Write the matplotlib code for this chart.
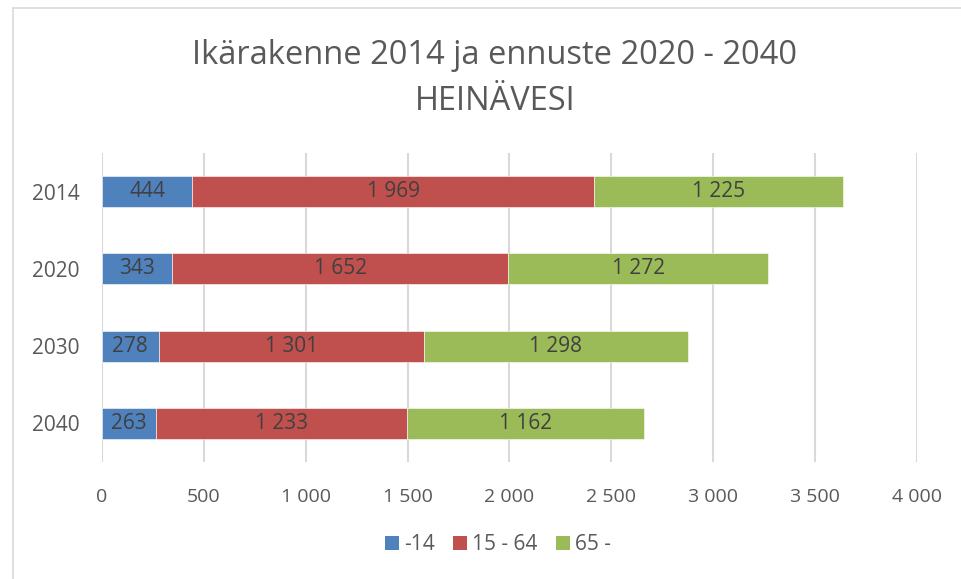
import matplotlib
matplotlib.use("Agg")
import matplotlib.pyplot as plt
from matplotlib.patches import Rectangle, Patch

plt.rcParams['font.family'] = ['Open Sans', 'DejaVu Sans']

years = ["2014", "2020", "2030", "2040"]
series = ["-14", "15 - 64", "65 -"]
age_0_14 = [444, 343, 278, 263]
age_15_64 = [1969, 1652, 1301, 1233]
age_65 = [1225, 1272, 1298, 1162]
colors = ["#4F81BD", "#C0504D", "#9BBB59"]
xticks = [0, 500, 1000, 1500, 2000, 2500, 3000, 3500, 4000]


def fmt(v):
    return f"{v:,}".replace(",", " ")


fig = plt.figure(figsize=(9.62, 5.79), dpi=100)
ax = fig.add_axes([102 / 962, 1 - 462 / 579, 815 / 962, 309 / 579])

# chart border (only top/left visible in the original crop)
fig.patches.append(Rectangle((13 / 962, -0.1), 1.2, 1 - 8 / 579 + 0.1,
                             transform=fig.transFigure, fill=False,
                             edgecolor="#D9D9D9", linewidth=1.2))

pos = list(range(len(years)))
left = [0] * len(years)
for name, vals, col in zip(series, [age_0_14, age_15_64, age_65], colors):
    bars = ax.barh(pos, vals, left=left, height=0.4, color=col,
                   edgecolor="white", linewidth=0.4, label=name, zorder=3)
    for b, v in zip(bars, vals):
        ax.text(b.get_x() + b.get_width() / 2, b.get_y() + b.get_height() / 2,
                fmt(v), ha="center", va="center", fontsize=15,
                color="#404040", zorder=4)
    left = [a + b for a, b in zip(left, vals)]

ax.set_xlim(0, 4000)
ax.set_ylim(3.5, -0.5)
ax.set_yticks(pos)
ax.set_yticklabels(years)
ax.set_xticks(xticks)
ax.set_xticklabels([fmt(t) for t in xticks])
ax.tick_params(length=0, labelcolor="#595959")
ax.tick_params(axis="x", pad=19, labelsize=14)
ax.tick_params(axis="y", pad=16, labelsize=15)
ax.xaxis.grid(True, color="#D9D9D9", linewidth=1.5, zorder=0)
ax.set_axisbelow(True)
for s in ax.spines.values():
    s.set_visible(False)

fig.text(495 / 962, 1 - 56 / 579, "Ikärakenne 2014 ja ennuste 2020 - 2040",
         ha="center", va="center", fontsize=23.5, color="#595959")
fig.text(495 / 962, 1 - 101 / 579, "HEINÄVESI",
         ha="center", va="center", fontsize=23.5, color="#595959")

handles = [Patch(facecolor=c, label=n) for n, c in zip(series, colors)]
fig.legend(handles=handles, loc="center", bbox_to_anchor=(498 / 962, 1 - 545 / 579),
           ncol=3, frameon=False, fontsize=15, labelcolor="#595959",
           handlelength=0.65, handleheight=0.65, handletextpad=0.25,
           columnspacing=0.9)

fig.savefig("out.png", dpi=100)
